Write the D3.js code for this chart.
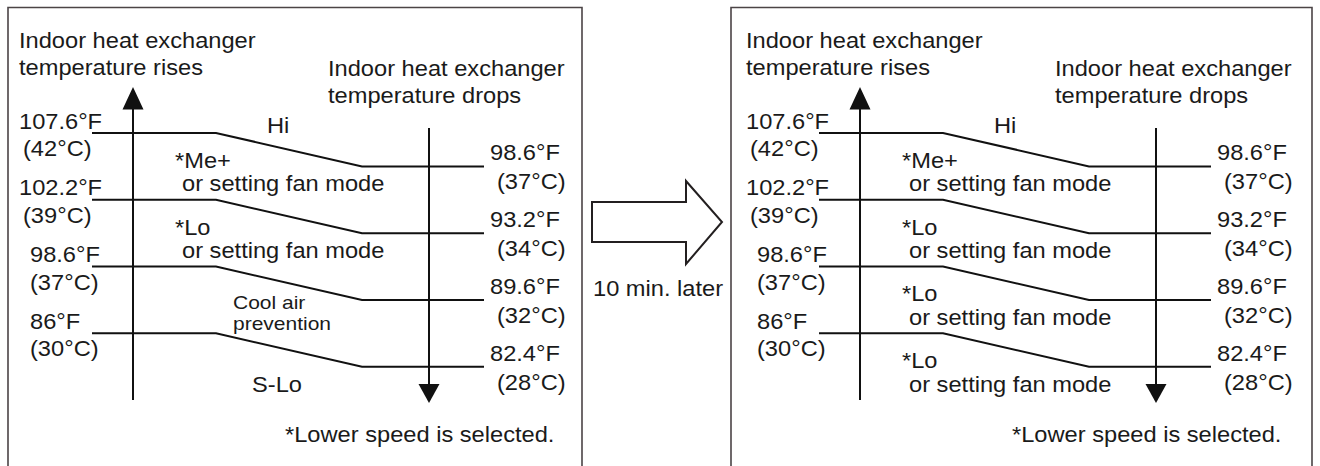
<!DOCTYPE html>
<html>
<head>
<meta charset="utf-8">
<script src="https://cdn.jsdelivr.net/npm/d3@7"></script>
<style>
  html, body { margin: 0; padding: 0; background: #fff; }
  svg { display: block; }
  text { font-family: "Liberation Sans", Arial, sans-serif; fill: #1a1a1a; }
</style>
</head>
<body>
<svg id="chart" width="1320" height="466"></svg>
<script>
// ---- data ----
const levels = [0, 1, 2, 3];
const riseF = ["107.6°F", "102.2°F", "98.6°F", "86°F"];
const riseC = ["(42°C)", "(39°C)", "(37°C)", "(30°C)"];
const dropF = ["98.6°F", "93.2°F", "89.6°F", "82.4°F"];
const dropC = ["(37°C)", "(34°C)", "(32°C)", "(28°C)"];
const riseTitle = ["Indoor heat exchanger", "temperature rises"];
const dropTitle = ["Indoor heat exchanger", "temperature drops"];
const zonesBefore = [["Hi"], ["*Me+", "or setting fan mode"], ["*Lo", "or setting fan mode"], ["Cool air", "prevention"], ["S-Lo"]];
const zonesAfter = [["Hi"], ["*Me+", "or setting fan mode"], ["*Lo", "or setting fan mode"], ["*Lo", "or setting fan mode"], ["*Lo", "or setting fan mode"]];
const footnote = "*Lower speed is selected.";
const transitionLabel = "10 min. later";

// ---- layout ----
const svg = d3.select("#chart");
const SX = 1.1;            // horizontal stretch of the original lettering
const FS = 21.5, FS_SMALL = 17.5;
const y = d3.scaleLinear().domain([0, 3]).range([133, 333.3]);
const x = d3.scaleLinear().domain([0, 1]).range([0, 1]); // panel-local x (identity)

function txt(g, s, px, py, size, sx) {
  g.append("text")
    .attr("transform", `translate(${px},${py}) scale(${sx || SX},1)`)
    .attr("font-size", size || FS)
    .text(s);
}

const line = d3.line().x(d => x(d[0])).y(d => d[1]);

function panel(ox, zones, border) {
  const g = svg.append("g").attr("transform", `translate(${ox},0)`);

  // frame (open at bottom)
  g.append("path")
    .attr("d", `M${border[0]},470V7.5H${border[1]}V470`)
    .attr("fill", "none").attr("stroke", "#4b4446").attr("stroke-width", 1.6);

  // titles
  riseTitle.forEach((t, i) => txt(g, t, 19, 48 + i * 27));
  dropTitle.forEach((t, i) => txt(g, t, 328, 76 + i * 27));

  // rising axis (up arrow)
  g.append("line").attr("x1", 133).attr("x2", 133).attr("y1", 105).attr("y2", 400)
    .attr("stroke", "#111").attr("stroke-width", 2);
  g.append("path").attr("d", "M133,87L122.5,109.5L143.5,109.5Z").attr("fill", "#111");

  // dropping axis (down arrow)
  g.append("line").attr("x1", 429).attr("x2", 429).attr("y1", 128).attr("y2", 388)
    .attr("stroke", "#111").attr("stroke-width", 2);
  g.append("path").attr("d", "M418.5,384L439.5,384L429,403Z").attr("fill", "#111");

  // threshold lines
  g.selectAll("path.thr").data(levels).join("path")
    .attr("class", "thr")
    .attr("fill", "none").attr("stroke", "#111").attr("stroke-width", 2)
    .attr("d", i => line([[92, y(i)], [216, y(i)], [362, y(i + 0.5)], [484, y(i + 0.5)]]));

  // left / right temperature labels
  levels.forEach(i => {
    const lx = i < 2 ? 19 : 30;
    const cx = i < 2 ? 23 : 30;
    txt(g, riseF[i], lx, y(i) - 4.5);
    txt(g, riseC[i], cx, y(i) + 23);
    txt(g, dropF[i], 490, y(i + 0.5) - 6);
    txt(g, dropC[i], 497, y(i + 0.5) + 23);
  });

  // zone labels
  zones.forEach((lines, k) => {
    if (k === 0) { txt(g, lines[0], 267, y(0)); return; }
    if (lines[0] === "Cool air") {
      txt(g, lines[0], 233, y(k - 0.5) + 9.5, FS_SMALL, 1.2);
      txt(g, lines[1], 233, y(k - 0.5) + 30, FS_SMALL, 1.2);
      return;
    }
    if (lines.length === 1) { txt(g, lines[0], 252, y(k - 0.5) + 25); return; }
    txt(g, lines[0], 175, y(k - 0.5) + 1.5);
    txt(g, lines[1], 182, y(k - 0.5) + 25);
  });

  txt(g, footnote, 285, 442);
}

panel(0, zonesBefore, [8, 582]);
panel(727, zonesAfter, [4, 585]);

// transition arrow
svg.append("path")
  .attr("d", "M592,202H686V181L722,222L686,264V242H592Z")
  .attr("fill", "#fff").attr("stroke", "#231f20").attr("stroke-width", 2);
txt(svg, transitionLabel, 593, 296);
</script>
</body>
</html>
